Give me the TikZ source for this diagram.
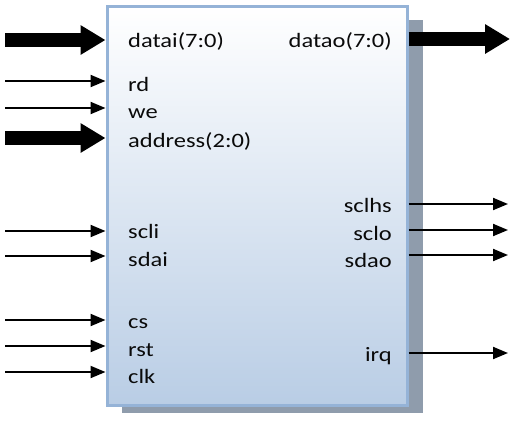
\documentclass[tikz,border=0pt]{standalone}
\usepackage{fontspec}
\setmainfont{Carlito}[FakeStretch=1.2]
\usetikzlibrary{arrows.meta}
\definecolor{boxborder}{RGB}{149,179,215}
\definecolor{boxbottom}{RGB}{185,205,229}
\definecolor{shadowc}{RGB}{143,156,172}
\definecolor{txt}{RGB}{10,10,10}
\begin{document}
\begin{tikzpicture}[x=1pt,y=-1pt,
  lbl/.style={inner sep=0pt, text=txt, font=\fontsize{20.4}{24}\selectfont},
  lblL/.style={lbl, anchor=base west},
  lblR/.style={lbl, anchor=base east},
  bus/.style={line width=14pt, -{Triangle[length=25pt,width=28pt]}},
  sig/.style={line width=2pt, -{Triangle[length=15pt,width=12pt]}}]
\useasboundingbox[fill=white] (0,0) rectangle (514,421);
% shadow
\fill[shadowc] (122,20) rectangle (423,413);
% main block
\node[draw=boxborder, line width=3pt, top color=white, bottom color=boxbottom,
      minimum width=300pt, minimum height=399pt, inner sep=0pt] (box) at (257,205.5) {};
% input free ends
\coordinate (datai) at (5,40);
\coordinate (rd) at (5,81);
\coordinate (we) at (5,108);
\coordinate (addr) at (5,138);
\coordinate (scli) at (5,231);
\coordinate (sdai) at (5,256);
\coordinate (cs) at (5,320);
\coordinate (rst) at (5,346);
\coordinate (clk) at (5,372);
% output free ends
\coordinate (datao) at (510,39);
\coordinate (sclhs) at (508,204);
\coordinate (sclo) at (508,230);
\coordinate (sdao) at (508,255);
\coordinate (irq) at (508,353);
% inputs
\draw[bus] (datai) -- (datai -| box.west);
\draw[sig] (rd) -- (rd -| box.west);
\draw[sig] (we) -- (we -| box.west);
\draw[bus] (addr) -- (addr -| box.west);
\draw[sig] (scli) -- (scli -| box.west);
\draw[sig] (sdai) -- (sdai -| box.west);
\draw[sig] (cs) -- (cs -| box.west);
\draw[sig] (rst) -- (rst -| box.west);
\draw[sig] (clk) -- (clk -| box.west);
% outputs
\draw[bus] (datao -| box.east) -- (datao);
\draw[sig] (sclhs -| box.east) -- (sclhs);
\draw[sig] (sclo -| box.east) -- (sclo);
\draw[sig] (sdao -| box.east) -- (sdao);
\draw[sig] (irq -| box.east) -- (irq);
% labels
\node[lblL] (l-datai) at (128,47) {datai(7:0)};
\node[lblL] (l-rd) at (128,91) {rd};
\node[lblL] (l-we) at (128,118) {we};
\node[lblL] (l-addr) at (128,147) {address(2:0)};
\node[lblL] (l-scli) at (128,238) {scli};
\node[lblL] (l-sdai) at (128,266) {sdai};
\node[lblL] (l-cs) at (128,328) {cs};
\node[lblL] (l-rst) at (128,356) {rst};
\node[lblL] (l-clk) at (128,383) {clk};
\node[lblR] (l-datao) at (392,47) {datao(7:0)};
\node[lblR] (l-sclhs) at (392,212) {sclhs};
\node[lblR] (l-sclo) at (392,240) {sclo};
\node[lblR] (l-sdao) at (392,267) {sdao};
\node[lblR] (l-irq) at (392,361) {irq};
\end{tikzpicture}
\end{document}
